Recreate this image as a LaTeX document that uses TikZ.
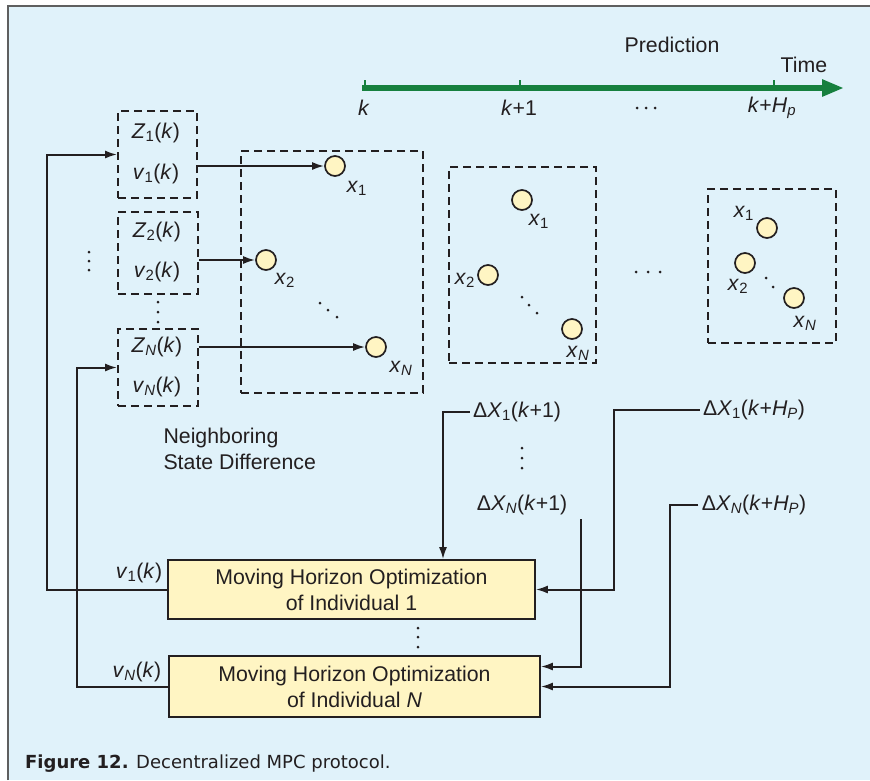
\documentclass[tikz,border=0pt]{standalone}
\usepackage{fontspec}
\setmainfont{Liberation Sans}
\newfontfamily\captionFamily{DejaVu Sans}
\usetikzlibrary{arrows.meta}
\definecolor{panelBlue}{RGB}{224,242,250}
\definecolor{frameGray}{RGB}{95,95,95}
\definecolor{timeGreen}{RGB}{22,128,62}
\definecolor{stateYellow}{RGB}{255,245,195}
\definecolor{inkDark}{RGB}{35,31,32}
\newcommand{\diagFont}{\fontsize{21.3}{26}\selectfont}
\newcommand{\captionFont}{\captionFamily\fontsize{18}{22}\selectfont}
\newcommand{\Zk}[1]{\textit{Z}\textsubscript{#1}(\textit{k})}
\newcommand{\vk}[1]{\textit{v}\textsubscript{#1}(\textit{k})}
\newcommand{\stateX}[1]{\textit{x}\textsubscript{#1}}
\newcommand{\dX}[2]{Δ\textit{X}\textsubscript{#1}(\textit{k}+#2)}
\newcommand{\Nsub}{\textit{N}}
\newcommand{\dotR}{1.5pt}

\begin{document}
\begin{tikzpicture}[x=1pt, y=-1pt, font=\diagFont, text=inkDark,
  dbox/.style={draw=inkDark, dash pattern=on 8pt off 5pt, line width=1.8pt, inner sep=0pt},
  state/.style={circle, draw=inkDark, fill=stateYellow, line width=1.7pt, minimum size=20pt, inner sep=0pt},
  optbox/.style={draw=inkDark, fill=stateYellow, line width=1.6pt, align=center, inner sep=0pt},
  arr/.style={draw=inkDark, line width=2pt, -{Latex[length=12pt,width=8pt]}}]
\useasboundingbox (0,0) rectangle (870,780);
\fill[panelBlue] (8,6) rectangle (870,780);
\draw[frameGray, line width=1.2pt] (8,780) -- (8,6) -- (870,6);

\coordinate (tStart) at (362,88);
\coordinate (tEnd) at (844,88);
\draw[timeGreen, line width=5.5pt, -{Triangle[length=22pt,width=16pt]}] (tStart) -- (tEnd);
\foreach \tx in {365,520,774}
  \draw[timeGreen, line width=1.2pt] (\tx,80) -- (\tx,88);
\node (tk0) at (364,108) {\textit{k}};
\node (tk1) at (519,108) {\textit{k}+1};
\node (tkH) at (772,108) {\textit{k}+\textit{H}\textsubscript{\textit{p}}};
\node (pred) at (672,45) {Prediction};
\node (time) at (804,65) {Time};

\node[dbox, minimum width=79pt, minimum height=87pt] (zb1) at (157.5,154.5) {};
\node[dbox, minimum width=80pt, minimum height=82pt] (zb2) at (158,253) {};
\node[dbox, minimum width=80pt, minimum height=77pt] (zbN) at (158,367.5) {};
\node (tz1) at (156,133) {\Zk{1}};
\node (tv1) at (156,174) {\vk{1}};
\node (tz2) at (157,232) {\Zk{2}};
\node (tv2) at (157,272) {\vk{2}};
\node (tzN) at (157,347) {\Zk{\Nsub}};
\node (tvN) at (157,387) {\vk{\Nsub}};

\node[dbox, minimum width=182pt, minimum height=242pt] (fr1) at (332,272) {};
\node[dbox, minimum width=147pt, minimum height=196pt] (fr2) at (522.5,265) {};
\node[dbox, minimum width=128pt, minimum height=154pt] (fr3) at (772,266) {};

\node[state] (s11) at (335,166) {};
\node[state] (s12) at (266,260) {};
\node[state] (s1N) at (376,347) {};
\node[state] (s21) at (522,200) {};
\node[state] (s22) at (488,275) {};
\node[state] (s2N) at (572,329) {};
\node[state] (s31) at (767,228) {};
\node[state] (s32) at (745,263) {};
\node[state] (s3N) at (794,298) {};
\node (l11) at (357,188) {\stateX{1}};
\node (l12) at (285,280) {\stateX{2}};
\node (l1N) at (401,368) {\stateX{\Nsub}};
\node (l21) at (539,221) {\stateX{1}};
\node (l22) at (465,280) {\stateX{2}};
\node (l2N) at (578,353) {\stateX{\Nsub}};
\node (l31) at (744,213) {\stateX{1}};
\node (l32) at (738,286) {\stateX{2}};
\node (l3N) at (805,323) {\stateX{\Nsub}};

\draw[arr] (zb1.east |- s11) -- (s11);
\draw[arr] (zb2.east |- s12) -- (s12);
\draw[arr] (zbN.east |- s1N) -- (s1N);

\node[align=left, anchor=north west] (nsd) at (160,425) {Neighboring\\State Difference};

\node[optbox, minimum width=367pt, minimum height=59pt] (opt1) at (351.5,589.5)
  {Moving Horizon Optimization\\of Individual 1};
\node[optbox, minimum width=371pt, minimum height=61pt] (optN) at (354.5,686.5)
  {Moving Horizon Optimization\\of Individual \textit{N}};
\node (lv1) at (139,573) {\vk{1}};
\node (lvN) at (137,672) {\vk{\Nsub}};

\coordinate (loopA) at (47,0);
\coordinate (loopB) at (77,0);
\draw[arr] (opt1.west) -- (opt1.west -| loopA) |- (zb1.west);
\draw[arr] (optN.west) -- (optN.west -| loopB) |- (zbN.west);

\node (dx11) at (517,412) {\dX{1}{1}};
\node (dxN1) at (522,505) {\dX{\Nsub}{1}};
\node (dx1H) at (754,410) {\dX{1}{\textit{H}\textsubscript{\textit{P}}}};
\node (dxNH) at (754,505) {\dX{\Nsub}{\textit{H}\textsubscript{\textit{P}}}};

\coordinate (dropA) at (443,0);
\coordinate (dropB) at (581,519);
\coordinate (dropC) at (614,0);
\coordinate (dropD) at (670,0);
\draw[arr] (dx11.west) -| (opt1.north -| dropA);
\draw[arr] (dropB) |- ([yshift=20pt]optN.east);
\draw[arr] (dx1H.west) -| (opt1.east -| dropC) -- (opt1.east);
\draw[arr] (dxNH.west) -| (optN.east -| dropD) -- (optN.east);

\foreach \px/\py in {89/252,89/261,89/270, 158/302,158/312,158/322,
    320/303,328/310,337/317, 522/297,529/305,537/313, 766/278,773/287,
    636/272,648/272,660/272, 637/108,646/108,655/108,
    522/448,522/458,522/468, 418/628,418/637,418/647}
  \fill[inkDark] (\px,\py) circle (\dotR);

\node[anchor=west, inner sep=0pt] (cap) at (25,764)
  {\captionFont\textbf{Figure 12.} Decentralized MPC protocol.};
\end{tikzpicture}
\end{document}
